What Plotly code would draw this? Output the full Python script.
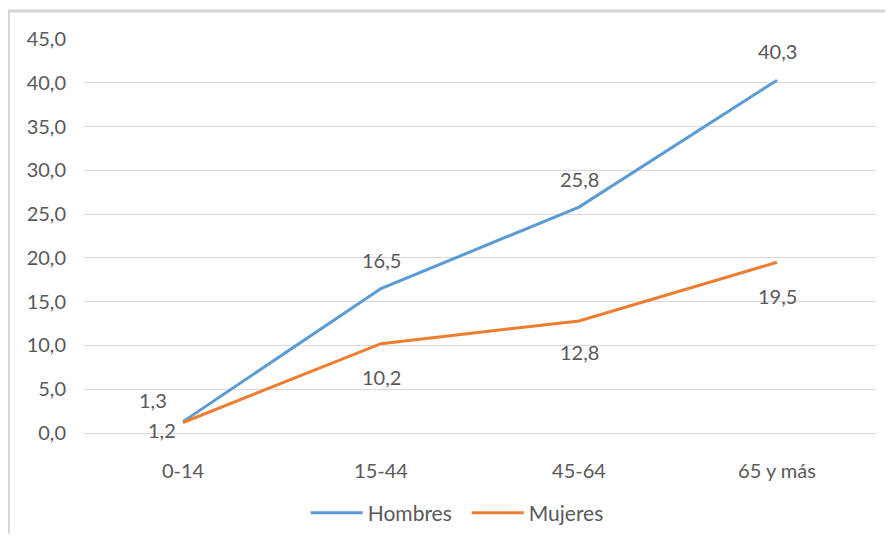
import plotly.graph_objects as go

categories = ["0-14", "15-44", "45-64", "65 y más"]
hombres = [1.3, 16.5, 25.8, 40.3]
mujeres = [1.2, 10.2, 12.8, 19.5]
y_ticks = [0, 5, 10, 15, 20, 25, 30, 35, 40, 45]
y_tick_labels = ["0,0", "5,0", "10,0", "15,0", "20,0", "25,0", "30,0", "35,0", "40,0", "45,0"]

FONT = "Lato, 'Open Sans', sans-serif"
TXT = "#595959"
BLUE = "#5B9BD5"
ORANGE = "#ED7D31"
FS = 20

def fmt(v):
    return f"{v:.1f}".replace(".", ",")

fig = go.Figure()
fig.add_trace(go.Scatter(x=categories, y=hombres, mode="lines", name="Hombres",
                         line=dict(color=BLUE, width=3)))
fig.add_trace(go.Scatter(x=categories, y=mujeres, mode="lines", name="Mujeres",
                         line=dict(color=ORANGE, width=3)))

# data labels
h_shift = [(-30, 22), (0, 29), (0, 28), (0, 29)]
m_shift = [(-21, -8), (0, -33), (0, -31), (0, -34)]
for c, v, (dx, dy) in zip(categories, hombres, h_shift):
    fig.add_annotation(x=c, y=v, text=fmt(v), showarrow=False, xshift=dx, yshift=dy,
                       font=dict(family=FONT, size=FS, color=TXT))
for c, v, (dx, dy) in zip(categories, mujeres, m_shift):
    fig.add_annotation(x=c, y=v, text=fmt(v), showarrow=False, xshift=dx, yshift=dy,
                       font=dict(family=FONT, size=FS, color=TXT))

# frame (left and top edges visible)
fig.add_shape(type="rect", xref="paper", yref="paper", x0=-0.0955, x1=1.1, y0=-0.3, y1=1.0711,
              line=dict(color="#d4d4d4", width=3), fillcolor="rgba(0,0,0,0)", layer="below")

fig.update_layout(
    width=877, height=526,
    margin=dict(l=76, r=9, t=31, b=101, autoexpand=False),
    paper_bgcolor="white", plot_bgcolor="white",
    font=dict(family=FONT, size=FS, color=TXT),
    showlegend=True,
    legend=dict(orientation="h", x=0.28, xanchor="left", y=-0.203, yanchor="middle",
                font=dict(family=FONT, size=21, color=TXT), itemwidth=52,
                entrywidth=94, tracegroupgap=0),
    xaxis=dict(type="category", showgrid=False, showline=True, linecolor="#d9d9d9", linewidth=1,
               ticks="", tickfont=dict(family=FONT, size=FS, color=TXT), ticklabelstandoff=20,
               range=[-0.5, 3.5], zeroline=False),
    yaxis=dict(range=[0, 45], tickvals=y_ticks, ticktext=y_tick_labels, showgrid=True,
               gridcolor="#d9d9d9", gridwidth=1, zeroline=False, showline=False, ticks="",
               tickfont=dict(family=FONT, size=FS, color=TXT), ticklabelstandoff=17),
)

fig.write_html("out.html")
